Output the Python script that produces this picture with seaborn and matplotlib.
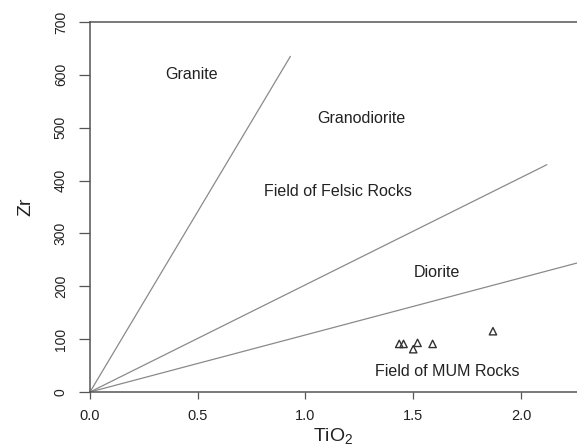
import matplotlib
matplotlib.use("Agg")
import matplotlib.pyplot as plt
import seaborn as sns
import pandas as pd

# ---- data ----
line_names = ["Granite / Granodiorite", "Felsic / Diorite", "Diorite / MUM"]
line_end_tio2 = [0.93, 2.12, 2.26]
line_end_zr = [635, 430, 244]

sample_tio2 = [1.435, 1.455, 1.52, 1.50, 1.59, 1.87]
sample_zr = [91, 91, 93, 81, 91, 115]

field_labels = ["Granite", "Granodiorite", "Field of Felsic Rocks", "Diorite", "Field of MUM Rocks"]
field_tio2 = [0.47, 1.26, 1.15, 1.61, 1.66]
field_zr = [600, 518, 380, 227, 38]

x_ticks = [0.0, 0.5, 1.0, 1.5, 2.0]
x_tick_labels = ["0.0", "0.5", "1.0", "1.5", "2.0"]
y_ticks = [0, 100, 200, 300, 400, 500, 600, 700]
y_tick_labels = ["0", "100", "200", "300", "400", "500", "600", "700"]

sns.set_style("white")
plt.rcParams["font.family"] = ["Liberation Sans", "DejaVu Sans"]
plt.rcParams["mathtext.fontset"] = "custom"
plt.rcParams["mathtext.rm"] = "Liberation Sans"

fig = plt.figure(figsize=(5.77, 4.46), dpi=100)
ax = fig.add_axes([90 / 577, 54 / 446, 487 / 577, 370 / 446])

rows = []
for name, xe, ye in zip(line_names, line_end_tio2, line_end_zr):
    rows.append({"line": name, "TiO2": 0.0, "Zr": 0.0})
    rows.append({"line": name, "TiO2": xe, "Zr": ye})
lines_df = pd.DataFrame(rows)
for name in line_names:
    sub = lines_df[lines_df["line"] == name]
    sns.lineplot(data=sub, x="TiO2", y="Zr", color="#8a8a8a", linewidth=0.9,
                 ax=ax, sort=False, estimator=None)

pts = pd.DataFrame({"TiO2": sample_tio2, "Zr": sample_zr})
sns.scatterplot(data=pts, x="TiO2", y="Zr", marker="^", s=28,
                facecolor="none", edgecolor="#333333", linewidth=1.0, ax=ax, zorder=3)

for lab, xv, yv in zip(field_labels, field_tio2, field_zr):
    ax.text(xv, yv, lab, ha="center", va="center", fontsize=11.5, color="#222222")

ax.set_xlim(0, 2.26)
ax.set_ylim(0, 700)
ax.set_xticks(x_ticks)
ax.set_xticklabels(x_tick_labels, fontsize=10.5, color="#222222")
ax.set_yticks(y_ticks)
ax.set_yticklabels(y_tick_labels, fontsize=10, rotation=90, va="center", color="#222222")

ax.tick_params(axis="x", direction="out", length=5, width=0.9, color="#555555", pad=7)
ax.tick_params(axis="y", direction="out", length=8, width=0.9, color="#555555", pad=8)
ax.tick_params(bottom=True, left=True)

for side in ["left", "bottom", "top"]:
    ax.spines[side].set_visible(True)
    ax.spines[side].set_color("#555555")
    ax.spines[side].set_linewidth(1.1)
ax.spines["right"].set_visible(False)

ax.set_xlabel(r"TiO$_\mathregular{2}$", fontsize=14, color="#222222", labelpad=3)
ax.set_ylabel("Zr", fontsize=14, color="#222222", labelpad=14)

fig.savefig("out.png", dpi=100)
